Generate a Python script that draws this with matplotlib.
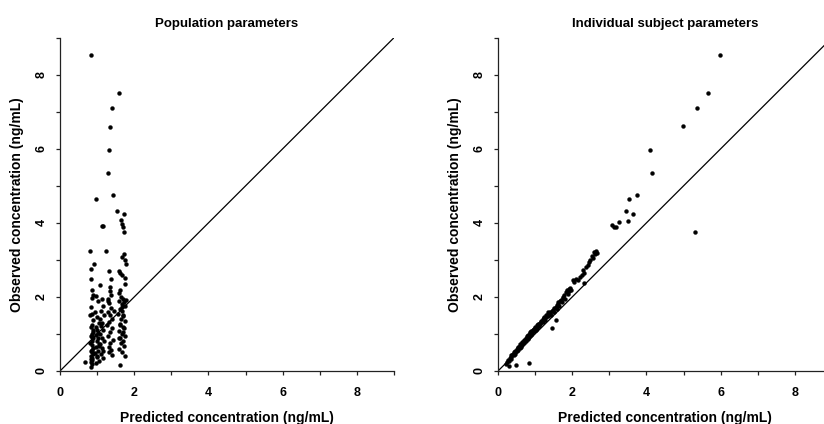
import matplotlib
matplotlib.use("Agg")
import matplotlib.pyplot as plt

# ---------------- data ----------------
titles = ["Population parameters", "Individual subject parameters"]
xlabel = "Predicted concentration (ng/mL)"
ylabel = "Observed concentration (ng/mL)"
major_ticks = [0, 2, 4, 6, 8]
minor_ticks = [1, 3, 5, 7, 9]
axis_max = 9

# Left panel: population predicted (x) vs observed (y)
pop_pred = [0.84, 1.60, 1.40, 1.36, 1.32, 1.30, 1.42, 0.97, 1.54, 1.72, 1.64, 1.68, 1.70, 1.72,
            1.13, 1.16, 0.82, 1.25, 1.66, 1.72, 1.75, 1.77, 0.92, 0.83, 1.31, 1.60, 1.63, 1.66,
            0.83, 1.38, 1.74, 1.76,
            0.85, 0.88, 0.86, 0.84, 0.87, 0.82, 0.89, 0.85, 0.83, 0.88, 0.86, 0.84, 0.90, 0.87,
            0.82, 0.85, 0.89, 0.83, 0.86, 0.88, 0.84, 0.87, 0.85, 0.83, 0.86, 0.84, 0.67, 0.88,
            0.85, 0.87, 0.83,
            0.98, 1.02, 0.95, 1.00, 1.04, 0.97, 1.01, 0.96, 1.03, 0.99, 1.05, 0.98, 1.02, 0.95,
            1.00, 1.04, 0.97, 1.01, 1.03,
            1.08, 1.12, 1.15, 1.10, 1.18, 1.07, 1.14, 1.11, 1.16, 1.09, 1.13, 1.19, 1.08, 1.12,
            1.15, 1.10, 1.17, 1.06,
            1.35, 1.34, 1.37, 1.30, 1.33, 1.38, 1.29, 1.36, 1.41, 1.32, 1.27, 1.39, 1.34, 1.30,
            1.43, 1.36, 1.31, 1.38, 1.33, 1.40, 1.28, 1.45,
            1.62, 1.58, 1.65, 1.70, 1.60, 1.72, 1.66, 1.74, 1.63, 1.68, 1.57, 1.71, 1.64, 1.76,
            1.61, 1.69, 1.73, 1.59, 1.67, 1.75, 1.62, 1.70, 1.65, 1.72, 1.60, 1.68, 1.74, 1.61,
            1.77, 1.66, 1.71, 1.63, 1.69, 1.58]
pop_obs = [8.54, 7.51, 7.10, 6.60, 5.98, 5.36, 4.75, 4.65, 4.31, 4.25, 4.07, 3.98, 3.89, 3.75,
           3.92, 3.92, 3.23, 3.23, 3.08, 3.17, 2.99, 2.90, 2.88, 2.75, 2.70, 2.70, 2.64, 2.60,
           2.48, 2.48, 2.50, 2.35,
           2.18, 2.05, 1.98, 1.72, 1.55, 1.50, 1.38, 1.25, 1.18, 1.05, 1.00, 0.95, 0.88, 0.80,
           0.75, 0.70, 0.62, 0.55, 0.50, 0.45, 0.40, 0.35, 0.30, 0.25, 0.20, 0.10, 0.25, 1.12,
           0.92, 0.58, 0.33,
           2.02, 1.88, 1.60, 1.45, 1.30, 1.20, 1.10, 0.98, 0.90, 0.82, 0.72, 0.65, 0.55, 0.48,
           0.38, 0.28, 0.22, 0.40, 1.02,
           2.32, 1.95, 1.75, 1.62, 1.50, 1.40, 1.30, 1.22, 1.12, 1.00, 0.90, 0.80, 0.72, 0.62,
           0.55, 0.45, 0.35, 0.68,
           2.26, 2.15, 2.05, 1.95, 1.83, 1.70, 1.60, 1.52, 1.40, 1.32, 1.25, 1.15, 1.05, 0.95,
           0.85, 0.75, 0.65, 0.58, 0.50, 0.42, 1.88, 1.62,
           2.20, 2.10, 2.00, 1.95, 1.90, 1.85, 1.80, 1.75, 1.68, 1.62, 1.55, 1.48, 1.40, 1.35,
           1.28, 1.20, 1.15, 1.08, 1.00, 0.95, 0.88, 0.82, 0.75, 0.68, 0.60, 0.50, 0.40, 0.16,
           1.92, 1.72, 1.52, 1.25, 1.05, 0.90]

# Right panel: individual predicted (x) vs observed (y)
ind_pred = [5.99, 5.65, 5.37, 4.99, 4.10, 4.14, 5.30, 3.75, 3.54, 3.63, 3.45, 3.49, 3.27, 3.06,
            3.12, 3.18, 1.46, 1.55, 0.83, 0.49, 0.29, 2.31, 2.02,
            0.22, 0.25, 0.28, 0.30, 0.32, 0.35, 0.36, 0.38, 0.40, 0.42, 0.44, 0.45, 0.47, 0.48,
            0.50, 0.52, 0.53, 0.55, 0.56, 0.58, 0.60, 0.61, 0.62, 0.64, 0.65, 0.66, 0.68, 0.70,
            0.71, 0.72, 0.74, 0.75, 0.77, 0.78, 0.80, 0.81, 0.82, 0.84, 0.85, 0.87, 0.88, 0.90,
            0.92, 0.93, 0.95, 0.97, 0.98, 1.00, 1.02, 1.04, 1.05, 1.07, 1.08, 1.10, 1.12, 1.14,
            1.15, 1.18, 1.20, 1.22, 1.25, 1.27, 1.30, 1.32, 1.35, 1.38, 1.40, 1.42, 1.45, 1.48,
            1.50, 1.52, 1.55, 1.58, 1.60, 1.63, 1.65, 1.68, 1.70, 1.72, 1.75, 1.78, 1.80, 1.82,
            1.85, 1.88, 1.90, 1.95, 1.98, 2.05, 2.10, 2.15, 2.20, 2.25, 2.30, 2.33, 2.38, 2.42,
            2.45, 2.48, 2.52, 2.55, 2.58, 2.62, 2.65, 2.68,
            0.60, 0.70, 0.90, 1.00, 0.75, 0.85, 1.10, 1.28, 0.55, 0.65, 0.95, 1.05, 1.16, 0.46,
            0.34, 0.79, 1.23, 1.36, 1.62, 1.74, 1.92]
ind_obs = [8.54, 7.51, 7.11, 6.61, 5.98, 5.36, 3.74, 4.75, 4.65, 4.24, 4.31, 4.05, 4.01, 3.93,
           3.90, 3.88, 1.15, 1.37, 0.22, 0.16, 0.13, 2.38, 2.47,
           0.18, 0.25, 0.30, 0.28, 0.35, 0.38, 0.33, 0.42, 0.45, 0.44, 0.50, 0.47, 0.52, 0.55,
           0.54, 0.60, 0.57, 0.62, 0.65, 0.63, 0.68, 0.70, 0.66, 0.73, 0.75, 0.71, 0.78, 0.80,
           0.76, 0.83, 0.85, 0.82, 0.88, 0.90, 0.87, 0.94, 0.97, 0.92, 1.00, 1.02, 0.97, 1.05,
           1.03, 1.08, 1.10, 1.07, 1.13, 1.15, 1.12, 1.20, 1.17, 1.23, 1.26, 1.22, 1.30, 1.27,
           1.33, 1.35, 1.31, 1.40, 1.42, 1.38, 1.47, 1.50, 1.48, 1.55, 1.58, 1.52, 1.62, 1.65,
           1.60, 1.70, 1.72, 1.68, 1.78, 1.82, 1.75, 1.88, 1.92, 1.85, 1.98, 2.05, 1.95, 2.12,
           2.20, 2.08, 2.15, 2.25, 2.18, 2.40, 2.48, 2.45, 2.55, 2.60, 2.72, 2.65, 2.80, 2.85,
           2.95, 3.00, 3.10, 3.05, 3.20, 3.15, 3.25, 3.18,
           0.72, 0.84, 1.08, 1.18, 0.90, 1.05, 1.28, 1.50, 0.66, 0.78, 1.12, 1.24, 1.36, 0.55,
           0.42, 0.95, 1.45, 1.60, 1.85, 2.00, 2.22]

panels = [(pop_pred, pop_obs), (ind_pred, ind_obs)]

# ---------------- figure ----------------
plt.rcParams['font.family'] = ['Liberation Sans', 'DejaVu Sans']
plt.rcParams['font.weight'] = 'bold'

fig = plt.figure(figsize=(8.24, 4.24), dpi=100)
W, H = 824.0, 424.0
ax_w = 334.0 / W
ax_h = 333.3 / H
bottom = (H - 371.0) / H
lefts = [60.0 / W, 498.0 / W]

for i, (xs, ys) in enumerate(panels):
    ax = fig.add_axes([lefts[i], bottom, ax_w, ax_h])
    ax.plot([0, axis_max], [0, axis_max], color='black', lw=0.9, zorder=1)
    ax.plot(xs, ys, linestyle='none', marker='o', ms=2.8, mfc='black', mec='black',
            mew=0.3, zorder=2)
    ax.set_xlim(0, axis_max)
    ax.set_ylim(0, axis_max)
    for s in ['top', 'right']:
        ax.spines[s].set_visible(False)
    for s in ['left', 'bottom']:
        ax.spines[s].set_linewidth(0.9)
        ax.spines[s].set_color('#222222')
    ax.set_xticks(major_ticks)
    ax.set_yticks(major_ticks)
    ax.set_xticks(minor_ticks, minor=True)
    ax.set_yticks(minor_ticks, minor=True)
    ax.tick_params(which='both', direction='out', length=3.0, width=0.9, color='#222222')
    ax.tick_params(axis='x', which='major', pad=8.5, labelsize=9)
    ax.tick_params(axis='y', which='major', pad=6, labelsize=9)
    ax.set_xticklabels([str(t) for t in major_ticks], fontweight='bold')
    ax.set_yticklabels([str(t) for t in major_ticks], fontweight='bold', rotation=90,
                       va='center')
    ax.set_title(titles[i], fontsize=9.5, fontweight='bold', pad=8)
    ax.set_xlabel(xlabel, fontsize=10, fontweight='bold', labelpad=9)
    ax.set_ylabel(ylabel, fontsize=10, fontweight='bold', labelpad=8)

fig.savefig("out.png", dpi=100)
